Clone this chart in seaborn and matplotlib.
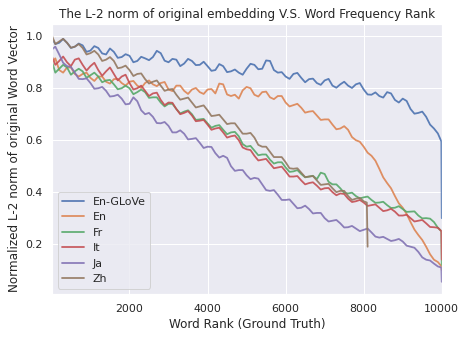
import pandas as pd
import seaborn as sns
import matplotlib
matplotlib.use("Agg")
import matplotlib.pyplot as plt

# word rank positions
rank = [20] + list(range(100, 10000, 100)) + [9990, 10000]
zh_rank = [20] + list(range(100, 8001, 100)) + [8080, 8100]

en_glove = [0.99, 0.97, 0.975, 0.99, 0.975, 0.955, 0.96, 0.972, 0.965, 0.94,
            0.945, 0.962, 0.955, 0.934, 0.93, 0.953, 0.94, 0.917, 0.92, 0.931,
            0.925, 0.90, 0.905, 0.921, 0.915, 0.908, 0.92, 0.944, 0.935, 0.906,
            0.9, 0.913, 0.91, 0.885, 0.895, 0.913, 0.905, 0.889, 0.89, 0.902,
            0.885, 0.867, 0.87, 0.893, 0.885, 0.862, 0.865, 0.872, 0.86, 0.852,
            0.875, 0.894, 0.89, 0.873, 0.875, 0.907, 0.905, 0.87, 0.86, 0.862,
            0.845, 0.836, 0.855, 0.859, 0.84, 0.823, 0.835, 0.837, 0.82, 0.813,
            0.83, 0.836, 0.81, 0.802, 0.815, 0.825, 0.81, 0.801, 0.815, 0.82,
            0.795, 0.776, 0.775, 0.784, 0.77, 0.764, 0.785, 0.78, 0.755, 0.745,
            0.76, 0.751, 0.72, 0.702, 0.705, 0.71, 0.69, 0.66, 0.645, 0.626,
            0.595, 0.30]
en = [0.90, 0.915, 0.87, 0.86, 0.88, 0.88, 0.855, 0.845, 0.855, 0.86,
      0.84, 0.828, 0.845, 0.845, 0.825, 0.818, 0.835, 0.836, 0.82, 0.81,
      0.825, 0.828, 0.81, 0.801, 0.82, 0.83, 0.815, 0.808, 0.82, 0.824,
      0.795, 0.789, 0.81, 0.81, 0.79, 0.778, 0.795, 0.801, 0.785, 0.778,
      0.795, 0.797, 0.78, 0.818, 0.815, 0.776, 0.77, 0.775, 0.76, 0.792,
      0.805, 0.80, 0.775, 0.768, 0.785, 0.787, 0.765, 0.758, 0.77, 0.77,
      0.745, 0.73, 0.735, 0.74, 0.725, 0.706, 0.71, 0.712, 0.695, 0.678,
      0.68, 0.68, 0.66, 0.642, 0.645, 0.654, 0.64, 0.612, 0.6, 0.594,
      0.575, 0.552, 0.54, 0.521, 0.49, 0.457, 0.435, 0.415, 0.385, 0.357,
      0.34, 0.316, 0.285, 0.256, 0.235, 0.216, 0.19, 0.161, 0.14, 0.131,
      0.115, 0.10]
fr = [0.90, 0.86, 0.875, 0.89, 0.88, 0.852, 0.865, 0.875, 0.865, 0.84,
      0.85, 0.86, 0.845, 0.823, 0.83, 0.832, 0.815, 0.796, 0.8, 0.81,
      0.8, 0.777, 0.785, 0.795, 0.785, 0.763, 0.765, 0.765, 0.745, 0.73,
      0.74, 0.74, 0.72, 0.703, 0.71, 0.715, 0.7, 0.678, 0.68, 0.682,
      0.665, 0.648, 0.655, 0.658, 0.64, 0.623, 0.63, 0.632, 0.615, 0.585,
      0.575, 0.578, 0.56, 0.542, 0.545, 0.545, 0.525, 0.51, 0.515, 0.515,
      0.495, 0.478, 0.48, 0.485, 0.47, 0.457, 0.46, 0.463, 0.45, 0.475,
      0.47, 0.44, 0.43, 0.43, 0.415, 0.397, 0.395, 0.398, 0.385, 0.376,
      0.38, 0.383, 0.37, 0.359, 0.36, 0.363, 0.35, 0.339, 0.34, 0.346,
      0.335, 0.324, 0.325, 0.326, 0.31, 0.299, 0.3, 0.298, 0.285, 0.263,
      0.25, 0.12]
it = [0.92, 0.89, 0.905, 0.922, 0.9, 0.885, 0.91, 0.915, 0.89, 0.868,
      0.885, 0.898, 0.87, 0.848, 0.865, 0.88, 0.855, 0.83, 0.845, 0.852,
      0.82, 0.795, 0.8, 0.81, 0.79, 0.77, 0.78, 0.783, 0.755, 0.735,
      0.745, 0.744, 0.72, 0.70, 0.705, 0.712, 0.695, 0.673, 0.675, 0.678,
      0.66, 0.64, 0.645, 0.648, 0.63, 0.61, 0.615, 0.618, 0.6, 0.572,
      0.565, 0.562, 0.54, 0.522, 0.525, 0.528, 0.51, 0.492, 0.495, 0.498,
      0.48, 0.46, 0.46, 0.462, 0.445, 0.43, 0.435, 0.438, 0.425, 0.41,
      0.415, 0.416, 0.4, 0.388, 0.395, 0.393, 0.375, 0.362, 0.365, 0.37,
      0.36, 0.347, 0.35, 0.353, 0.34, 0.327, 0.33, 0.336, 0.325, 0.31,
      0.31, 0.313, 0.3, 0.287, 0.29, 0.293, 0.28, 0.266, 0.265, 0.263,
      0.25, 0.14]
ja = [0.95, 0.96, 0.93, 0.898, 0.885, 0.882, 0.86, 0.836, 0.835, 0.838,
      0.82, 0.798, 0.8, 0.805, 0.79, 0.768, 0.77, 0.775, 0.76, 0.738,
      0.74, 0.765, 0.75, 0.715, 0.7, 0.705, 0.69, 0.666, 0.665, 0.67,
      0.655, 0.63, 0.63, 0.638, 0.625, 0.603, 0.605, 0.608, 0.59, 0.57,
      0.575, 0.574, 0.55, 0.533, 0.54, 0.532, 0.5, 0.482, 0.485, 0.485,
      0.465, 0.45, 0.455, 0.452, 0.43, 0.408, 0.405, 0.408, 0.39, 0.37,
      0.37, 0.372, 0.355, 0.338, 0.34, 0.348, 0.335, 0.318, 0.32, 0.32,
      0.3, 0.287, 0.29, 0.293, 0.28, 0.264, 0.265, 0.27, 0.26, 0.25,
      0.255, 0.26, 0.245, 0.229, 0.225, 0.228, 0.22, 0.212, 0.215, 0.22,
      0.21, 0.194, 0.19, 0.186, 0.17, 0.149, 0.14, 0.137, 0.125, 0.114,
      0.11, 0.055]
zh = [1.0, 0.97, 0.98, 0.99, 0.975, 0.956, 0.96, 0.97, 0.955, 0.93,
      0.935, 0.944, 0.93, 0.905, 0.91, 0.92, 0.905, 0.877, 0.88, 0.887,
      0.87, 0.847, 0.855, 0.857, 0.835, 0.818, 0.825, 0.83, 0.81, 0.79,
      0.795, 0.797, 0.775, 0.756, 0.76, 0.764, 0.745, 0.726, 0.73, 0.734,
      0.715, 0.693, 0.695, 0.698, 0.68, 0.662, 0.665, 0.665, 0.645, 0.625,
      0.625, 0.628, 0.61, 0.582, 0.575, 0.575, 0.555, 0.535, 0.535, 0.535,
      0.515, 0.492, 0.49, 0.492, 0.475, 0.458, 0.46, 0.462, 0.445, 0.428,
      0.43, 0.432, 0.415, 0.40, 0.405, 0.405, 0.385, 0.37, 0.375, 0.378,
      0.365, 0.36, 0.19]

series = [("En-GLoVe", rank, en_glove), ("En", rank, en), ("Fr", rank, fr),
          ("It", rank, it), ("Ja", rank, ja), ("Zh", zh_rank, zh)]
df = pd.concat([pd.DataFrame({"rank": r, "norm": v, "lang": name})
                for name, r, v in series], ignore_index=True)

sns.set()
fig, ax = plt.subplots(figsize=(466 / 72, 338 / 72), dpi=72)
fig.subplots_adjust(left=0.112, right=0.948, top=0.929, bottom=0.13)

sns.lineplot(data=df, x="rank", y="norm", hue="lang", estimator=None,
             sort=False, linewidth=1.8, alpha=0.9, ax=ax)
ax.margins(x=0)
ax.set_xlim(20, 10000)
ax.set_title("The L-2 norm of original embedding V.S. Word Frequency Rank")
ax.set_xlabel("Word Rank (Ground Truth)")
ax.set_ylabel("Normalized L-2 norm of original Word Vector")
handles, labels = ax.get_legend_handles_labels()
ax.legend(handles, labels, loc="lower left")

fig.savefig("out.png", dpi=72)
